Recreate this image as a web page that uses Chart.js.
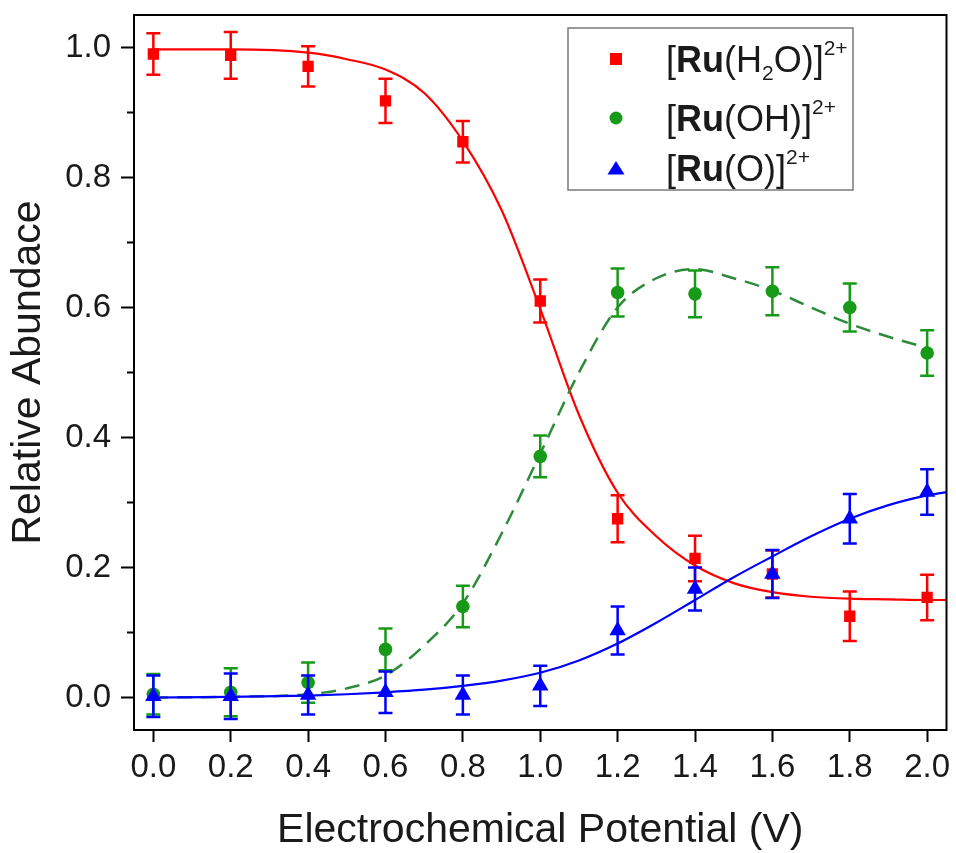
<!DOCTYPE html>
<html>
<head>
<meta charset="utf-8">
<title>Relative Abundance vs Potential</title>
<script src="https://cdn.jsdelivr.net/npm/chart.js@4.4.0/dist/chart.umd.min.js"></script>
<style>
  html, body { margin: 0; padding: 0; background: #fff; }
</style>
</head>
<body>
<canvas id="chart" width="956" height="853"></canvas>
<script>
// Measured points (potential in V)
const potentials = [0.0, 0.2, 0.4, 0.6, 0.8, 1.0, 1.2, 1.4, 1.6, 1.8, 2.0];
const h2oValues = [0.990, 0.988, 0.971, 0.918, 0.855, 0.610, 0.275, 0.214, 0.190, 0.125, 0.154];
const h2oErrors = [0.032, 0.036, 0.031, 0.034, 0.032, 0.033, 0.036, 0.035, 0.036, 0.038, 0.035];
const ohValues  = [0.005, 0.008, 0.023, 0.074, 0.140, 0.371, 0.623, 0.621, 0.625, 0.600, 0.530];
const ohErrors  = [0.031, 0.037, 0.031, 0.032, 0.032, 0.032, 0.037, 0.036, 0.037, 0.037, 0.035];
const oValues   = [0.002, 0.002, 0.004, 0.008, 0.004, 0.018, 0.103, 0.167, 0.190, 0.275, 0.316];
const oErrors   = [0.032, 0.035, 0.030, 0.032, 0.030, 0.031, 0.037, 0.033, 0.037, 0.038, 0.035];

// Fitted curves
const fitPotentials = [0.0, 0.2, 0.4, 0.5, 0.6, 0.7, 0.8, 0.9, 1.0, 1.1, 1.2, 1.3, 1.4, 1.5, 1.6, 1.7, 1.8, 1.9, 2.0, 2.05];
const h2oFit = [0.997, 0.997, 0.992, 0.982, 0.966, 0.930, 0.856, 0.750, 0.598, 0.435, 0.315, 0.248, 0.203, 0.176, 0.162, 0.155, 0.152, 0.151, 0.150, 0.150];
const ohFit  = [0.000, 0.001, 0.005, 0.014, 0.034, 0.080, 0.145, 0.252, 0.375, 0.500, 0.600, 0.645, 0.659, 0.645, 0.626, 0.600, 0.575, 0.555, 0.538, null];
const oFit   = [0.000, 0.001, 0.003, 0.005, 0.008, 0.012, 0.018, 0.026, 0.038, 0.057, 0.083, 0.115, 0.150, 0.185, 0.217, 0.248, 0.275, 0.296, 0.311, 0.316];

// Axis ticks
const xTicks = [0.0, 0.2, 0.4, 0.6, 0.8, 1.0, 1.2, 1.4, 1.6, 1.8, 2.0];
const yTicks = [0.0, 0.2, 0.4, 0.6, 0.8, 1.0];
const yMinorTicks = [0.1, 0.3, 0.5, 0.7, 0.9];

const RED = '#ff0000';
const GREEN = '#179a17';
const GREEN_LINE = '#2e8b3a';
const BLUE = '#0000ff';
const FONT = "'Liberation Sans', Arial, sans-serif";

function toXY(xs, ys) {
  return xs.map((x, i) => ({ x: x, y: ys[i] }));
}

// Draws vertical error bars with caps under the markers
const errorBarPlugin = {
  id: 'errorBars',
  beforeDatasetDraw(chart, args) {
    const ds = chart.data.datasets[args.index];
    if (!ds.errors) return;
    const ctx = chart.ctx;
    const xs = chart.scales.x, ys = chart.scales.y;
    ctx.save();
    ctx.strokeStyle = ds.borderColor;
    ctx.lineWidth = 2.5;
    ds.data.forEach(function(p, i) {
      const x = xs.getPixelForValue(p.x);
      const top = ys.getPixelForValue(p.y + ds.errors[i]);
      const bot = ys.getPixelForValue(p.y - ds.errors[i]);
      ctx.beginPath();
      ctx.moveTo(x, top); ctx.lineTo(x, bot);
      ctx.moveTo(x - 7, top); ctx.lineTo(x + 7, top);
      ctx.moveTo(x - 7, bot); ctx.lineTo(x + 7, bot);
      ctx.stroke();
    });
    ctx.restore();
  }
};

// Frame around plot area + minor y ticks
const framePlugin = {
  id: 'frame',
  afterDatasetsDraw(chart) {
    const ctx = chart.ctx, a = chart.chartArea;
    ctx.save();
    ctx.strokeStyle = '#000';
    ctx.lineWidth = 2;
    ctx.strokeRect(a.left, a.top, a.right - a.left, a.bottom - a.top);
    ctx.beginPath();
    yMinorTicks.forEach(function(v) {
      const y = chart.scales.y.getPixelForValue(v);
      ctx.moveTo(a.left, y);
      ctx.lineTo(a.left - 7, y);
    });
    ctx.stroke();
    ctx.restore();
  }
};

// Legend with bold Ru, subscripts and superscripts
const legendEntries = [
  { style: 'rect', color: RED, parts: [['['], ['Ru', 'b'], ['(H'], ['2', 'sub'], ['O)]'], ['2+', 'sup']] },
  { style: 'circle', color: GREEN, parts: [['['], ['Ru', 'b'], ['(OH)]'], ['2+', 'sup']] },
  { style: 'triangle', color: BLUE, parts: [['['], ['Ru', 'b'], ['(O)]'], ['2+', 'sup']] }
];

const legendPlugin = {
  id: 'richLegend',
  afterDraw(chart) {
    const ctx = chart.ctx;
    const box = { x: 568, y: 28, w: 285, h: 162 };
    const rows = [59, 118, 168];
    ctx.save();
    ctx.fillStyle = '#fff';
    ctx.fillRect(box.x, box.y, box.w, box.h);
    ctx.strokeStyle = '#7a7a7a';
    ctx.lineWidth = 1.5;
    ctx.strokeRect(box.x, box.y, box.w, box.h);

    legendEntries.forEach(function(entry, i) {
      const cy = rows[i];
      const sx = 616;
      ctx.fillStyle = entry.color;
      ctx.beginPath();
      if (entry.style === 'rect') {
        ctx.rect(sx - 6, cy - 6, 12, 12);
      } else if (entry.style === 'circle') {
        ctx.arc(sx, cy, 6.5, 0, Math.PI * 2);
      } else {
        ctx.moveTo(sx, cy - 7);
        ctx.lineTo(sx + 8.5, cy + 6.5);
        ctx.lineTo(sx - 8.5, cy + 6.5);
        ctx.closePath();
      }
      ctx.fill();

      let x = 666;
      const base = cy + 13;
      ctx.fillStyle = '#1a1a1a';
      ctx.textBaseline = 'alphabetic';
      ctx.textAlign = 'left';
      entry.parts.forEach(function(part) {
        const text = part[0], kind = part[1];
        let y = base;
        if (kind === 'b') {
          ctx.font = 'bold 36px ' + FONT;
        } else if (kind === 'sub') {
          ctx.font = '21px ' + FONT;
          y = base + 8;
        } else if (kind === 'sup') {
          ctx.font = '21px ' + FONT;
          y = base - 17;
        } else {
          ctx.font = '36px ' + FONT;
        }
        ctx.fillText(text, x, y);
        x += ctx.measureText(text).width;
      });
    });
    ctx.restore();
  }
};

new Chart(document.getElementById('chart'), {
  type: 'scatter',
  data: {
    datasets: [
      {
        label: 'H2O fit',
        data: toXY(fitPotentials, h2oFit),
        showLine: true,
        borderColor: RED,
        borderWidth: 2.2,
        pointRadius: 0,
        cubicInterpolationMode: 'monotone',
        order: 5
      },
      {
        label: 'OH fit',
        data: toXY(fitPotentials, ohFit),
        showLine: true,
        borderColor: GREEN_LINE,
        borderWidth: 2.5,
        borderDash: [15, 9],
        pointRadius: 0,
        spanGaps: false,
        cubicInterpolationMode: 'monotone',
        order: 4
      },
      {
        label: 'O fit',
        data: toXY(fitPotentials, oFit),
        showLine: true,
        borderColor: BLUE,
        borderWidth: 2.2,
        pointRadius: 0,
        cubicInterpolationMode: 'monotone',
        order: 3
      },
      {
        label: '[Ru(H2O)]2+',
        data: toXY(potentials, h2oValues),
        errors: h2oErrors,
        pointStyle: 'rect',
        pointRadius: 8,
        backgroundColor: RED,
        borderColor: RED,
        borderWidth: 0,
        order: 2
      },
      {
        label: '[Ru(OH)]2+',
        data: toXY(potentials, ohValues),
        errors: ohErrors,
        pointStyle: 'circle',
        pointRadius: 6.8,
        backgroundColor: GREEN,
        borderColor: GREEN,
        borderWidth: 0,
        order: 1
      },
      {
        label: '[Ru(O)]2+',
        data: toXY(potentials, oValues),
        errors: oErrors,
        pointStyle: 'triangle',
        pointRadius: 9.5,
        backgroundColor: BLUE,
        borderColor: BLUE,
        borderWidth: 0,
        order: 0
      }
    ]
  },
  options: {
    responsive: false,
    animation: false,
    events: [],
    layout: {
      padding: { left: 6, top: 15, right: 9, bottom: 0 }
    },
    plugins: {
      legend: { display: false },
      tooltip: { enabled: false }
    },
    scales: {
      x: {
        type: 'linear',
        min: -0.05,
        max: 2.05,
        afterBuildTicks: function(scale) {
          scale.ticks = xTicks.map(v => ({ value: v }));
        },
        afterFit: function(scale) {
          scale.height = 123;
          scale.paddingLeft = 0;
          scale.paddingRight = 0;
        },
        ticks: {
          padding: 6,
          color: '#1a1a1a',
          font: { family: FONT, size: 33 },
          maxRotation: 0,
          callback: v => v.toFixed(1)
        },
        grid: {
          drawOnChartArea: false,
          tickLength: 12,
          tickWidth: 2,
          tickColor: '#000'
        },
        border: { display: true, color: '#000', width: 2 },
        title: {
          display: true,
          text: 'Electrochemical Potential (V)',
          color: '#1a1a1a',
          font: { family: FONT, size: 41, lineHeight: 1.1 },
          padding: { top: 0, bottom: 0 }
        }
      },
      y: {
        type: 'linear',
        min: -0.05,
        max: 1.05,
        afterBuildTicks: function(scale) {
          scale.ticks = yTicks.map(v => ({ value: v }));
        },
        afterFit: function(scale) {
          scale.width = 128;
          scale.paddingTop = 0;
          scale.paddingBottom = 0;
        },
        ticks: {
          padding: 10,
          color: '#1a1a1a',
          font: { family: FONT, size: 33 },
          callback: v => v.toFixed(1)
        },
        grid: {
          drawOnChartArea: false,
          tickLength: 13,
          tickWidth: 2,
          tickColor: '#000'
        },
        border: { display: true, color: '#000', width: 2 },
        title: {
          display: true,
          text: 'Relative Abundace',
          color: '#1a1a1a',
          font: { family: FONT, size: 41, lineHeight: 1.1 },
          padding: { top: 0, bottom: 0 }
        }
      }
    }
  },
  plugins: [errorBarPlugin, framePlugin, legendPlugin]
});
</script>
</body>
</html>
